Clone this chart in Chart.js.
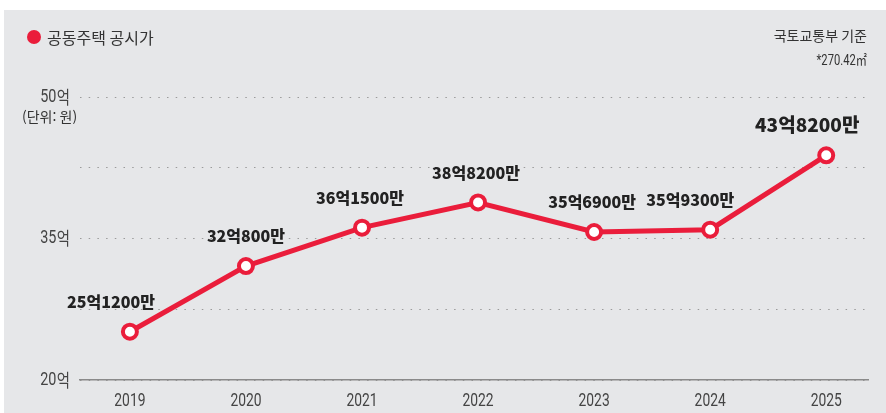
<!DOCTYPE html>
<html lang="ko">
<head>
<meta charset="utf-8">
<script src="https://cdn.jsdelivr.net/npm/chart.js@4.4.1/dist/chart.umd.min.js"></script>
<style>
  html, body { margin: 0; padding: 0; background: #ffffff; }
  #wrap { width: 886px; height: 413px; position: relative; }
</style>
</head>
<body>
<div id="wrap"><canvas id="chart" width="886" height="413"></canvas></div>
<script>
// ==================== DONNÉES ====================
const years = [2019, 2020, 2021, 2022, 2023, 2024, 2025];
const prices = [25.12, 32.08, 36.15, 38.82, 35.69, 35.93, 43.82]; // 억 원
const priceLabels = ["25억1200만", "32억800만", "36억1500만", "38억8200만", "35억6900만", "35억9300만", "43억8200만"];
const yTicks = [20, 27.5, 35, 42.5, 50];
const yLabelTicks = [20, 35, 50];

const seriesName = "공동주택 공시가";
const sourceText = "국토교통부 기준";
const areaText = "*270.42㎡";
const unitText = "(단위: 원)";

// ==================== STYLES ====================
const RED = "#ea1d3b";
const BG = "#e6e7e9";
const CJK = "'Noto Sans CJK KR', sans-serif";
// décalage horizontal des étiquettes par rapport au point
const labelShift = [-19, 0, -2, -2, -2, -20, -19];

const backgroundPlugin = {
    id: "bg",
    beforeDraw(chart) {
        const ctx = chart.ctx;
        ctx.save();
        ctx.fillStyle = BG;
        ctx.fillRect(4, 10, chart.width - 4, chart.height - 10);
        ctx.restore();
    }
};

// texte condensé : dessiné avec une échelle horizontale réduite
function narrowText(ctx, text, x, y, font, align, squeeze) {
    ctx.save();
    ctx.font = font;
    ctx.textAlign = align;
    ctx.textBaseline = "middle";
    ctx.translate(x, y);
    ctx.scale(squeeze, 1);
    ctx.fillText(text, 0, 0);
    ctx.restore();
}

const headerPlugin = {
    id: "header",
    afterDraw(chart) {
        const ctx = chart.ctx;
        ctx.save();
        // légende
        ctx.fillStyle = RED;
        ctx.beginPath();
        ctx.arc(34, 37, 7, 0, Math.PI * 2);
        ctx.fill();
        ctx.fillStyle = "#333";
        ctx.font = "16px " + CJK;
        ctx.textBaseline = "middle";
        ctx.textAlign = "left";
        ctx.fillText(seriesName, 47, 38);
        // source
        ctx.textAlign = "right";
        ctx.font = "14px " + CJK;
        ctx.fillText(sourceText, 867, 36);
        narrowText(ctx, areaText, 867, 61, "14px Roboto, " + CJK, "right", 0.8);
        // unité
        ctx.textAlign = "left";
        ctx.font = "14px " + CJK;
        ctx.fillText(unitText, 22, 117);
        ctx.restore();
    }
};

// étiquettes des axes (police condensée)
const axisLabelPlugin = {
    id: "axisLabels",
    afterDraw(chart) {
        const ctx = chart.ctx;
        const xs = chart.scales.x;
        const ys = chart.scales.y;
        ctx.save();
        ctx.fillStyle = "#444";
        years.forEach(v => {
            narrowText(ctx, String(v), xs.getPixelForValue(v), 401, "18px Roboto", "center", 0.77);
        });
        yLabelTicks.forEach(v => {
            const y = ys.getPixelForValue(v);
            ctx.save();
            ctx.textBaseline = "middle";
            ctx.textAlign = "right";
            ctx.translate(70, y);
            ctx.scale(0.8, 1);
            ctx.font = "18px " + CJK;
            const w = ctx.measureText("억").width;
            ctx.fillText("억", 0, 0);
            ctx.font = "18px Roboto";
            ctx.fillText(String(v), -w - 0.5, 0);
            ctx.restore();
        });
        ctx.restore();
    }
};

const valueLabelPlugin = {
    id: "valueLabels",
    afterDatasetsDraw(chart) {
        const ctx = chart.ctx;
        const meta = chart.getDatasetMeta(0);
        ctx.save();
        ctx.fillStyle = "#222";
        ctx.textAlign = "center";
        ctx.textBaseline = "middle";
        meta.data.forEach((pt, i) => {
            const last = i === meta.data.length - 1;
            ctx.font = "900 " + (last ? 19 : 16) + "px " + CJK;
            ctx.fillText(priceLabels[i], pt.x + labelShift[i], pt.y - (last ? 31 : 30));
        });
        ctx.restore();
    }
};

new Chart(document.getElementById("chart"), {
    type: "line",
    data: {
        datasets: [{
            label: seriesName,
            data: years.map((y, i) => ({ x: y, y: prices[i] })),
            borderColor: RED,
            borderWidth: 5,
            pointRadius: 7,
            pointBorderWidth: 4,
            pointBackgroundColor: "#ffffff",
            pointBorderColor: RED,
            tension: 0
        }]
    },
    options: {
        responsive: false,
        animation: false,
        layout: { padding: { left: 0, right: 18, top: 97, bottom: 0 } },
        plugins: { legend: { display: false }, tooltip: { enabled: false } },
        scales: {
            x: {
                type: "linear",
                min: 2018.57,
                max: 2025.36,
                afterBuildTicks: (axis) => { axis.ticks = years.map(v => ({ value: v })); },
                afterFit: (axis) => { axis.height = 33; },
                grid: { display: false, drawTicks: false },
                border: { display: true, color: "#8a8a8a", width: 1.5 },
                ticks: { display: false }
            },
            y: {
                min: 20,
                max: 50,
                afterBuildTicks: (axis) => { axis.ticks = yTicks.map(v => ({ value: v })); },
                afterFit: (axis) => { axis.width = 80; },
                border: { display: false, dash: [1.5, 7.2] },
                grid: {
                    color: "#9a9a9a",
                    lineWidth: 1,
                    drawTicks: false
                },
                ticks: { display: false }
            }
        }
    },
    plugins: [backgroundPlugin, headerPlugin, axisLabelPlugin, valueLabelPlugin]
});
</script>
</body>
</html>
